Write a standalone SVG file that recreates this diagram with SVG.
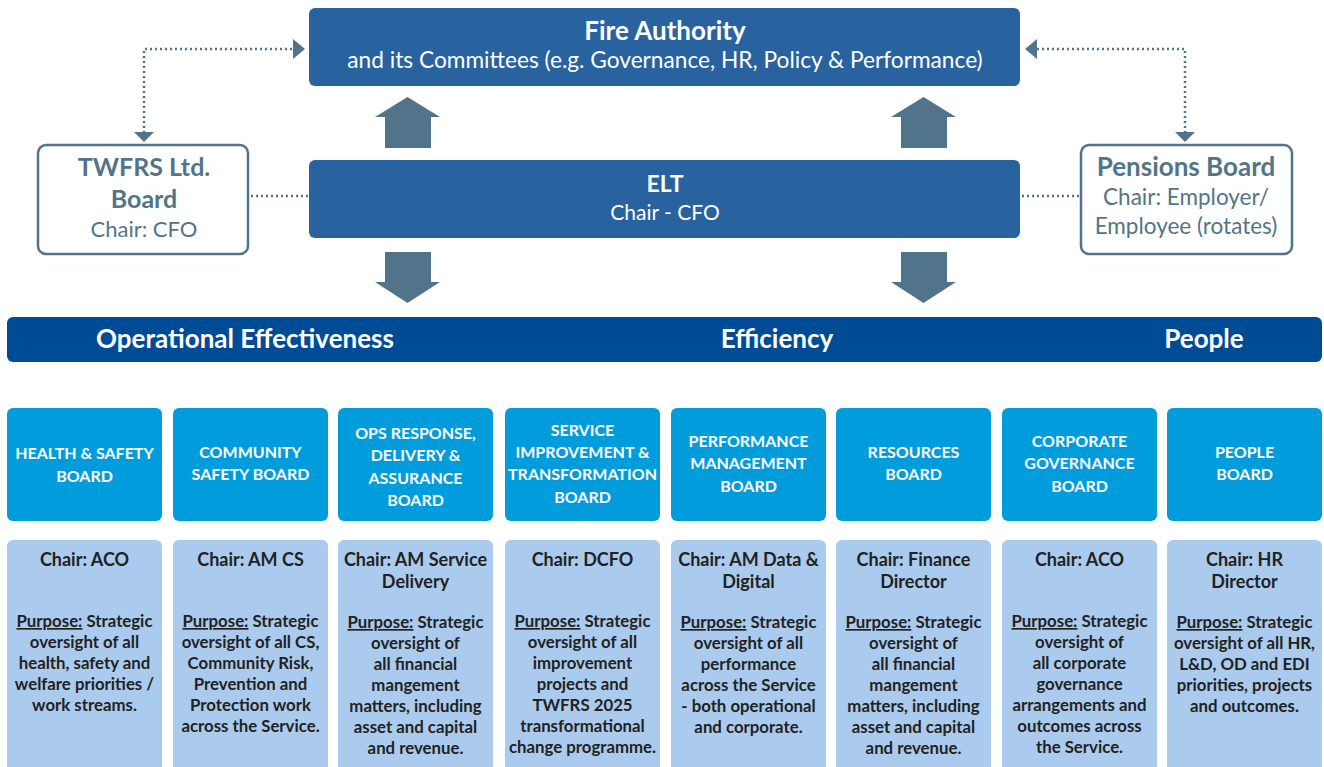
<svg xmlns="http://www.w3.org/2000/svg" width="1324" height="767" viewBox="0 0 1324 767">
  <defs>
    <style>
      .t { font-family: Lato, "Liberation Sans", sans-serif; text-anchor: middle; }
      .top { fill: #28629f; }
      .side { fill: #ffffff; stroke: #52748a; stroke-width: 2.5; }
      .sideT { fill: #52748a; }
      .blk { fill: #52748a; }
      .dot { fill: none; stroke: #52748a; stroke-width: 2.5; stroke-dasharray: 2 3; }
      .band { fill: #004b96; }
      .board { fill: #019cdc; }
      .info { fill: #aacbed; }
      .bt { fill: #ffffff; font-weight: 700; font-size: 16px; }
      .ct { fill: #222222; font-weight: 700; font-size: 18px; }
      .pt { fill: #222222; font-weight: 700; font-size: 16.8px; }
      .u { text-decoration: underline; }
    </style>
  </defs>

  <rect width="1324" height="767" fill="#ffffff"/>

  <!-- connectors -->
  <g id="connectors">
    <path class="dot" d="M144,133 V49 H294"/>
    <path class="blk" d="M134,132 H154 L144,142 z"/>
    <path class="blk" d="M293,39 L305,49 L293,59 z"/>
    <path class="dot" d="M1185,133 V49 H1036"/>
    <path class="blk" d="M1175,132 H1195 L1185,142 z"/>
    <path class="blk" d="M1037,39 L1025,49 L1037,59 z"/>
    <path class="dot" d="M251,196 H308"/>
    <path class="dot" d="M1022,196 H1080"/>
    <!-- block arrows ELT -> Fire Authority -->
    <path class="blk" d="M385,148 V117 H375 L407.5,97 L440,117 H431 V148 z"/>
    <path class="blk" d="M901,148 V117 H891 L923.5,97 L956,117 H947 V148 z"/>
    <!-- block arrows ELT -> themes -->
    <path class="blk" d="M385,252 V282 H375 L407.5,303 L440,282 H431 V252 z"/>
    <path class="blk" d="M901,252 V282 H891 L923.5,303 L956,282 H947 V252 z"/>
  </g>

  <g id="fire-authority">
    <rect class="top" x="309" y="8" width="711" height="78" rx="6"/>
    <text class="t" x="665" y="40" fill="#fff" font-size="26" font-weight="700">Fire Authority</text>
    <text class="t" x="665" y="68" fill="#fff" font-size="22.7">and its Committees (e.g. Governance, HR, Policy &amp; Performance)</text>
  </g>

  <g id="elt">
    <rect class="top" x="309" y="160" width="711" height="78" rx="6"/>
    <text class="t" x="665" y="192" fill="#fff" font-size="23" font-weight="700">ELT</text>
    <text class="t" x="665" y="220" fill="#fff" font-size="21">Chair - CFO</text>
  </g>

  <g id="twfrs-board">
    <rect class="side" x="38" y="145" width="210" height="109" rx="8"/>
    <text class="t sideT" x="144" y="176" font-size="25" font-weight="700">TWFRS Ltd.</text>
    <text class="t sideT" x="144" y="208" font-size="25" font-weight="700">Board</text>
    <text class="t sideT" x="144" y="237" font-size="22">Chair: CFO</text>
  </g>

  <g id="pensions-board">
    <rect class="side" x="1081" y="145" width="211" height="109" rx="8"/>
    <text class="t sideT" x="1186" y="176" font-size="26" font-weight="700">Pensions Board</text>
    <text class="t sideT" x="1186" y="205" font-size="22.5">Chair: Employer/</text>
    <text class="t sideT" x="1186" y="234" font-size="22.5">Employee (rotates)</text>
  </g>

  <g id="themes">
    <rect class="band" x="7" y="317" width="1315" height="45" rx="6"/>
    <text class="t" x="245" y="348" fill="#fff" font-size="26" font-weight="700">Operational Effectiveness</text>
    <text class="t" x="777" y="348" fill="#fff" font-size="26" font-weight="700">Efficiency</text>
    <text class="t" x="1204" y="348" fill="#fff" font-size="26" font-weight="700">People</text>
  </g>

  <!-- boards -->
  <g id="health-safety">
    <rect class="board" x="7" y="408" width="155" height="113" rx="6"/>
    <text class="t bt" x="84.5" y="459">HEALTH &amp; SAFETY</text>
    <text class="t bt" x="84.5" y="482">BOARD</text>
    <rect class="info" x="7" y="540" width="155" height="240" rx="6"/>
    <text class="t ct" x="84.5" y="566">Chair: ACO</text>
    <text class="t pt" x="84.5" y="627"><tspan class="u">Purpose:</tspan> Strategic</text>
    <text class="t pt" x="84.5" y="648">oversight of all</text>
    <text class="t pt" x="84.5" y="669">health, safety and</text>
    <text class="t pt" x="84.5" y="690">welfare priorities /</text>
    <text class="t pt" x="84.5" y="711">work streams.</text>
  </g>

  <g id="community-safety">
    <rect class="board" x="173" y="408" width="155" height="113" rx="6"/>
    <text class="t bt" x="250.5" y="458">COMMUNITY</text>
    <text class="t bt" x="250.5" y="480">SAFETY BOARD</text>
    <rect class="info" x="173" y="540" width="155" height="240" rx="6"/>
    <text class="t ct" x="250.5" y="566">Chair: AM CS</text>
    <text class="t pt" x="250.5" y="627"><tspan class="u">Purpose:</tspan> Strategic</text>
    <text class="t pt" x="250.5" y="648">oversight of all CS,</text>
    <text class="t pt" x="250.5" y="669">Community Risk,</text>
    <text class="t pt" x="250.5" y="690">Prevention and</text>
    <text class="t pt" x="250.5" y="711">Protection work</text>
    <text class="t pt" x="250.5" y="732">across the Service.</text>
  </g>

  <g id="ops-response">
    <rect class="board" x="338" y="408" width="155" height="113" rx="6"/>
    <text class="t bt" x="415.5" y="439">OPS RESPONSE,</text>
    <text class="t bt" x="415.5" y="461">DELIVERY &amp;</text>
    <text class="t bt" x="415.5" y="484">ASSURANCE</text>
    <text class="t bt" x="415.5" y="506">BOARD</text>
    <rect class="info" x="338" y="540" width="155" height="240" rx="6"/>
    <text class="t ct" x="415.5" y="566">Chair: AM Service</text>
    <text class="t ct" x="415.5" y="588">Delivery</text>
    <text class="t pt" x="415.5" y="628"><tspan class="u">Purpose:</tspan> Strategic</text>
    <text class="t pt" x="415.5" y="649">oversight of</text>
    <text class="t pt" x="415.5" y="670">all financial</text>
    <text class="t pt" x="415.5" y="691">mangement</text>
    <text class="t pt" x="415.5" y="712">matters, including</text>
    <text class="t pt" x="415.5" y="733">asset and capital</text>
    <text class="t pt" x="415.5" y="754">and revenue.</text>
  </g>

  <g id="service-improvement">
    <rect class="board" x="505" y="408" width="155" height="113" rx="6"/>
    <text class="t bt" x="582.5" y="436">SERVICE</text>
    <text class="t bt" x="582.5" y="458">IMPROVEMENT &amp;</text>
    <text class="t bt" x="582.5" y="480">TRANSFORMATION</text>
    <text class="t bt" x="582.5" y="503">BOARD</text>
    <rect class="info" x="505" y="540" width="155" height="240" rx="6"/>
    <text class="t ct" x="582.5" y="566">Chair: DCFO</text>
    <text class="t pt" x="582.5" y="627"><tspan class="u">Purpose:</tspan> Strategic</text>
    <text class="t pt" x="582.5" y="648">oversight of all</text>
    <text class="t pt" x="582.5" y="669">improvement</text>
    <text class="t pt" x="582.5" y="690">projects and</text>
    <text class="t pt" x="582.5" y="711">TWFRS 2025</text>
    <text class="t pt" x="582.5" y="732">transformational</text>
    <text class="t pt" x="582.5" y="753">change programme.</text>
  </g>

  <g id="performance-management">
    <rect class="board" x="671" y="408" width="155" height="113" rx="6"/>
    <text class="t bt" x="748.5" y="447">PERFORMANCE</text>
    <text class="t bt" x="748.5" y="469">MANAGEMENT</text>
    <text class="t bt" x="748.5" y="492">BOARD</text>
    <rect class="info" x="671" y="540" width="155" height="240" rx="6"/>
    <text class="t ct" x="748.5" y="566">Chair: AM Data &amp;</text>
    <text class="t ct" x="748.5" y="588">Digital</text>
    <text class="t pt" x="748.5" y="628"><tspan class="u">Purpose:</tspan> Strategic</text>
    <text class="t pt" x="748.5" y="649">oversight of all</text>
    <text class="t pt" x="748.5" y="670">performance</text>
    <text class="t pt" x="748.5" y="691">across the Service</text>
    <text class="t pt" x="748.5" y="712">- both operational</text>
    <text class="t pt" x="748.5" y="733">and corporate.</text>
  </g>

  <g id="resources">
    <rect class="board" x="836" y="408" width="155" height="113" rx="6"/>
    <text class="t bt" x="913.5" y="458">RESOURCES</text>
    <text class="t bt" x="913.5" y="480">BOARD</text>
    <rect class="info" x="836" y="540" width="155" height="240" rx="6"/>
    <text class="t ct" x="913.5" y="566">Chair: Finance</text>
    <text class="t ct" x="913.5" y="588">Director</text>
    <text class="t pt" x="913.5" y="628"><tspan class="u">Purpose:</tspan> Strategic</text>
    <text class="t pt" x="913.5" y="649">oversight of</text>
    <text class="t pt" x="913.5" y="670">all financial</text>
    <text class="t pt" x="913.5" y="691">mangement</text>
    <text class="t pt" x="913.5" y="712">matters, including</text>
    <text class="t pt" x="913.5" y="733">asset and capital</text>
    <text class="t pt" x="913.5" y="754">and revenue.</text>
  </g>

  <g id="corporate-governance">
    <rect class="board" x="1002" y="408" width="155" height="113" rx="6"/>
    <text class="t bt" x="1079.5" y="447">CORPORATE</text>
    <text class="t bt" x="1079.5" y="469">GOVERNANCE</text>
    <text class="t bt" x="1079.5" y="492">BOARD</text>
    <rect class="info" x="1002" y="540" width="155" height="240" rx="6"/>
    <text class="t ct" x="1079.5" y="566">Chair: ACO</text>
    <text class="t pt" x="1079.5" y="627"><tspan class="u">Purpose:</tspan> Strategic</text>
    <text class="t pt" x="1079.5" y="648">oversight of</text>
    <text class="t pt" x="1079.5" y="669">all corporate</text>
    <text class="t pt" x="1079.5" y="690">governance</text>
    <text class="t pt" x="1079.5" y="711">arrangements and</text>
    <text class="t pt" x="1079.5" y="732">outcomes across</text>
    <text class="t pt" x="1079.5" y="753">the Service.</text>
  </g>

  <g id="people">
    <rect class="board" x="1167" y="408" width="155" height="113" rx="6"/>
    <text class="t bt" x="1244.5" y="458">PEOPLE</text>
    <text class="t bt" x="1244.5" y="480">BOARD</text>
    <rect class="info" x="1167" y="540" width="155" height="240" rx="6"/>
    <text class="t ct" x="1244.5" y="566">Chair: HR</text>
    <text class="t ct" x="1244.5" y="588">Director</text>
    <text class="t pt" x="1244.5" y="628"><tspan class="u">Purpose:</tspan> Strategic</text>
    <text class="t pt" x="1244.5" y="649">oversight of all HR,</text>
    <text class="t pt" x="1244.5" y="670">L&amp;D, OD and EDI</text>
    <text class="t pt" x="1244.5" y="691">priorities, projects</text>
    <text class="t pt" x="1244.5" y="712">and outcomes.</text>
  </g>
</svg>
